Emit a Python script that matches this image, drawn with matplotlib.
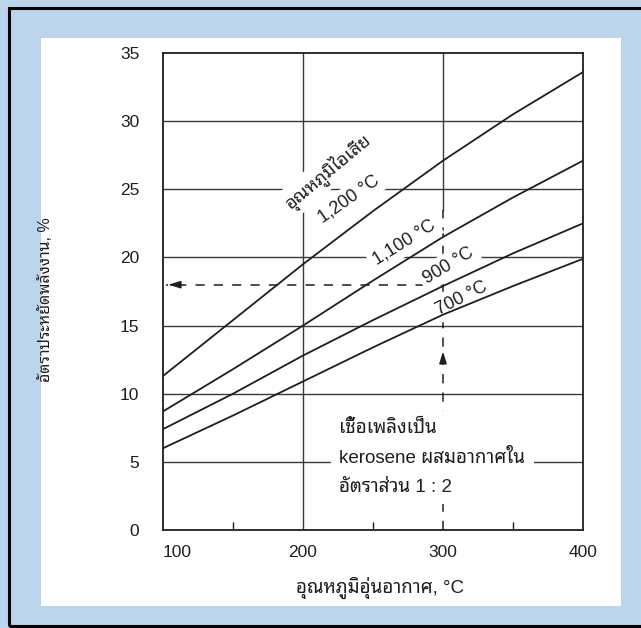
import matplotlib
matplotlib.use("Agg")
import matplotlib.pyplot as plt
from matplotlib.patches import Rectangle
from matplotlib.ticker import MultipleLocator

plt.rcParams['font.family'] = ['Liberation Sans', 'Noto Sans Thai Looped']

# preheated air temperature (°C) and energy saving (%) for each flue gas temperature
air_temp = [100, 150, 200, 250, 300, 350, 400]
saving_1200 = [11.3, 15.4, 19.5, 23.4, 27.1, 30.5, 33.6]
saving_1100 = [8.7, 11.8, 15.0, 18.3, 21.5, 24.4, 27.1]
saving_900 = [7.4, 10.0, 12.8, 15.4, 17.9, 20.3, 22.5]
saving_700 = [6.0, 8.4, 10.9, 13.4, 15.8, 17.9, 19.9]

example_air = 300
example_saving = 18

x_ticks = [100, 200, 300, 400]
y_ticks = [0, 5, 10, 15, 20, 25, 30, 35]

ink = '#1e1e1e'
grid_ink = '#3a3a3a'

fig = plt.figure(figsize=(6.41, 6.28), dpi=100, facecolor='#bdd5ec')

# white page and dark frame behind the axes
fig.patches.append(Rectangle((41 / 641, 1 - 606 / 628), 580 / 641, 568 / 628,
                             transform=fig.transFigure, fc='white', ec='none', zorder=-2))
fig.patches.append(Rectangle((8.5 / 641, 1 - 625.5 / 628), 700 / 641, 618 / 628,
                             transform=fig.transFigure, fc='none', ec='black', lw=2.2, zorder=-1))

ax = fig.add_axes([163 / 641, 1 - 530 / 628, 420 / 641, 477 / 628])
ax.set_facecolor('none')
ax.set_xlim(100, 400)
ax.set_ylim(0, 35)

for y in y_ticks[1:-1]:
    ax.axhline(y, color=grid_ink, lw=1.0, zorder=1)
ax.axvline(200, color=grid_ink, lw=1.0, zorder=1)
ax.axvline(300, ymin=23.5 / 35, color=grid_ink, lw=1.0, zorder=1)

for series in (saving_1200, saving_1100, saving_900, saving_700):
    ax.plot(air_temp, series, color=ink, lw=1.3, zorder=4)

# dashed reading path with arrow heads
dash = (0, (6, 6))
ax.plot([example_air, example_air], [0, 23.5], color=ink, lw=1.1, ls=dash, zorder=3)
ax.plot([example_air, 102], [example_saving, example_saving], color=ink, lw=1.1, ls=dash, zorder=3)
head = dict(arrowstyle='-|>,head_length=0.7,head_width=0.22', color=ink, lw=1.1)
ax.annotate('', xy=(example_air, 13.3), xytext=(example_air, 12.0), arrowprops=head, zorder=3)
ax.annotate('', xy=(102, example_saving), xytext=(108, example_saving), arrowprops=head, zorder=3)

box = dict(boxstyle='square,pad=0.25', fc='white', ec='none')
label_kw = dict(fontsize=13, color=ink, ha='center', va='center', rotation_mode='anchor', zorder=3.5)
ax.text(218, 26.3, 'อุณหภูมิไอเสีย', rotation=40, bbox=box, **label_kw)
ax.text(233, 24.3, '1,200 °C', rotation=35, bbox=box, **label_kw)
ax.text(272, 21.1, '1,100 °C', rotation=32, bbox=box, **label_kw)
ax.text(304, 19.4, '900 °C', rotation=31, bbox=box, **label_kw)
ax.text(313, 17.0, '700 °C', rotation=27, bbox=box, **label_kw)

ax.text(226, 5.3, 'เชื้อเพลิงเป็น\nkerosene ผสมอากาศใน\nอัตราส่วน 1 : 2',
        fontsize=13.5, color=ink, ha='left', va='center', linespacing=1.9, zorder=3.5,
        bbox=dict(boxstyle='square,pad=0.45', fc='white', ec='none'))

ax.set_xticks(x_ticks)
ax.set_yticks(y_ticks)
ax.xaxis.set_minor_locator(MultipleLocator(50))
ax.tick_params(axis='both', which='major', length=0, labelsize=12.5, colors=ink)
ax.tick_params(axis='x', which='major', pad=11)
ax.tick_params(axis='y', which='major', pad=17)
ax.tick_params(axis='x', which='minor', direction='in', length=6, width=1.0, color=ink)
ax.get_xticklabels()[0].set_ha('left')
for side in ax.spines.values():
    side.set_color(ink)
    side.set_linewidth(1.3)

fig.text(46 / 641, 1 - 300 / 628, 'อัตราประหยัดพลังงาน, %', rotation=90,
         ha='center', va='center', fontsize=11.5, color=ink)
fig.text(380 / 641, 1 - 588 / 628, 'อุณหภูมิอุ่นอากาศ, °C',
         ha='center', va='center', fontsize=13.5, color=ink)

fig.savefig('out.png', dpi=100, facecolor=fig.get_facecolor())
